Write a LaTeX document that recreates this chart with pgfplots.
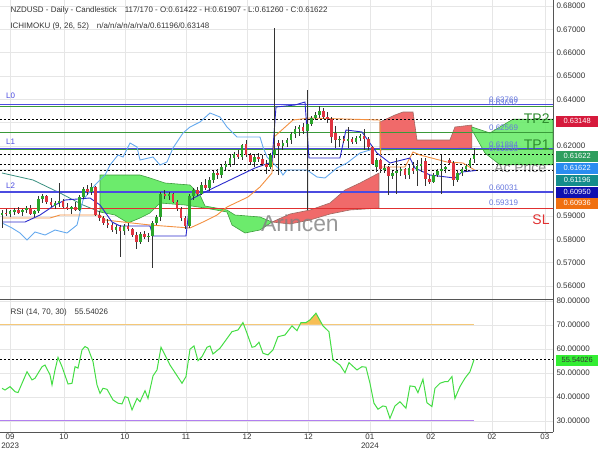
\documentclass[border=0pt]{standalone}
\usepackage{fontspec}
\setmainfont{Liberation Sans}
\usepackage{pgfplots}
\usepackage{pgfplotstable}
\usepgfplotslibrary{fillbetween}
\pgfplotsset{compat=1.18}
\definecolor{gridgray}{HTML}{E6E6E6}
\definecolor{axgray}{HTML}{555555}
\definecolor{tickgray}{HTML}{333333}
\definecolor{cgreen}{HTML}{2AA52A}
\definecolor{cred}{HTML}{E03440}
\definecolor{wick}{HTML}{333333}
\definecolor{cloudg}{HTML}{6CEB6C}
\definecolor{cloudgedge}{HTML}{3E9E3E}
\definecolor{cloudr}{HTML}{F06A6A}
\definecolor{cloudredge}{HTML}{A06A64}
\definecolor{tenkan}{HTML}{2A2ACC}
\definecolor{kijun}{HTML}{F39040}
\definecolor{chikou}{HTML}{66AAEE}
\definecolor{spana}{HTML}{3A9080}
\definecolor{lvlblue}{HTML}{4B4BE0}
\definecolor{lvlgreen}{HTML}{3A9A3A}
\definecolor{lvlred}{HTML}{E03030}
\definecolor{lbltext}{HTML}{6677DD}
\definecolor{tpgreen}{HTML}{2E8B2E}
\definecolor{rsigreen}{HTML}{44DD44}
\definecolor{oborange}{HTML}{F5C878}
\definecolor{obfill}{HTML}{F7BE55}
\definecolor{ospurple}{HTML}{B27FF0}
\definecolor{bxred}{HTML}{D61A3C}
\definecolor{bxgreen}{HTML}{2E9E5E}
\definecolor{bxblue}{HTML}{2A8CF0}
\definecolor{bxteal}{HTML}{148C8C}
\definecolor{bxnavy}{HTML}{1010B0}
\definecolor{bxorange}{HTML}{F07010}
\definecolor{bxlime}{HTML}{33EE33}

\pgfplotstableread{
i o h l c
0 .5905 .5925 .5850 .5915
2 .5908 .5925 .5895 .5920
3 .5920 .5935 .5905 .5927
5 .5915 .5930 .5900 .5925
6 .5925 .5945 .5915 .5936
8 .5910 .5925 .5895 .5920
9 .5920 .5985 .5915 .5975
10 .5975 .5995 .5955 .5986
13 .5945 .5965 .5930 .5955
14 .5955 .6040 .5940 .5966
17 .5930 .5945 .5910 .5937
19 .5925 .5990 .5920 .5980
20 .5980 .6025 .5975 .6015
22 .6002 .6040 .5990 .6025
28 .5840 .5860 .5825 .5852
30 .5836 .5865 .5820 .5856
34 .5790 .5830 .5780 .5822
36 .5810 .5825 .5790 .5816
37 .5816 .5880 .5677 .5870
38 .5870 .5905 .5860 .5895
39 .5895 .6005 .5880 .5995
41 .5985 .6005 .5970 .5996
46 .5858 .5995 .5850 .5985
47 .5985 .6020 .5970 .6010
49 .5995 .6045 .5990 .6035
51 .6020 .6065 .6005 .6055
52 .6055 .6095 .6040 .6085
54 .6075 .6120 .6065 .6110
55 .6110 .6135 .6095 .6125
56 .6125 .6165 .6110 .6150
57 .6150 .6175 .6120 .6165
59 .6152 .6210 .6140 .6205
62 .6130 .6165 .6110 .6155
66 .6110 .6170 .6100 .6160
67 .6160 .6705 .6150 .6182
69 .6198 .6225 .6185 .6215
70 .6215 .6235 .6195 .6226
71 .6226 .6260 .6210 .6250
72 .6250 .6285 .6235 .6275
73 .6275 .6290 .6245 .6282
75 .6265 .6440 .5925 .6296
76 .6296 .6330 .6285 .6320
77 .6320 .6345 .6310 .6335
78 .6335 .6370 .6320 .6352
83 .6225 .6245 .6195 .6232
85 .6222 .6280 .6190 .6228
87 .6218 .6245 .6210 .6235
88 .6235 .6250 .6220 .6242
92 .6110 .6150 .6090 .6138
94 .6100 .6120 .6085 .6106
96 .6070 .6095 .6060 .6085
97 .6085 .6150 .5995 .6092
98 .6092 .6110 .6070 .6100
100 .6075 .6120 .6060 .6105
102 .6095 .6140 .6030 .6115
103 .6115 .6150 .6090 .6125
106 .6045 .6085 .6040 .6075
107 .6075 .6100 .6065 .6095
108 .6095 .6160 .5995 .6100
109 .6100 .6115 .6085 .6108
112 .6055 .6095 .6045 .6085
113 .6085 .6110 .6070 .6100
114 .6100 .6125 .6090 .6115
115 .6115 .6150 .6105 .6142
116 .61422 .61907 .61260 .61622
}\greencandles

\pgfplotstableread{
i o h l c
1 .5915 .5930 .5900 .5908
4 .5927 .5940 .5910 .5915
7 .5936 .5945 .5905 .5910
11 .5986 .5990 .5950 .5960
12 .5960 .5975 .5940 .5945
15 .5966 .5975 .5935 .5940
16 .5940 .5955 .5925 .5930
18 .5937 .5960 .5920 .5925
21 .6015 .6035 .5990 .6002
23 .6025 .6030 .5900 .5905
24 .5905 .5920 .5880 .5890
25 .5890 .5900 .5860 .5870
26 .5870 .5885 .5850 .5860
27 .5860 .5870 .5830 .5840
29 .5852 .5860 .5725 .5836
31 .5856 .5870 .5835 .5845
32 .5845 .5850 .5810 .5820
33 .5820 .5830 .5760 .5790
35 .5822 .5835 .5800 .5810
40 .5995 .6010 .5975 .5985
42 .5996 .6000 .5955 .5960
43 .5960 .5970 .5920 .5930
44 .5930 .5940 .5880 .5890
45 .5890 .5900 .5845 .5855
48 .6010 .6025 .5985 .5995
50 .6035 .6060 .6010 .6020
53 .6085 .6100 .6060 .6075
58 .6165 .6185 .6145 .6152
60 .6210 .6225 .6155 .6160
61 .6160 .6170 .6120 .6130
63 .6155 .6170 .6130 .6145
64 .6145 .6160 .6115 .6125
65 .6125 .6140 .6080 .6110
68 .6212 .6225 .6075 .6198
74 .6282 .6300 .6250 .6265
79 .6352 .6365 .6315 .6325
80 .6325 .6345 .6300 .6315
81 .6315 .6325 .6215 .6240
82 .6255 .6285 .6190 .6225
84 .6232 .6245 .6215 .6222
86 .6228 .6240 .6210 .6218
89 .6242 .6275 .6185 .6232
90 .6232 .6240 .6185 .6195
91 .6195 .6200 .6120 .6125
93 .6138 .6145 .6085 .6100
95 .6110 .6115 .5990 .6070
99 .6100 .6105 .6060 .6075
101 .6105 .6130 .6080 .6095
104 .6135 .6150 .6030 .6058
105 .6058 .6075 .6035 .6045
110 .6140 .6150 .6120 .6128
111 .6128 .6135 .6030 .6055
}\redcandles

\pgfplotstableread{
x r
0 43.6
0.74 42.9
1.97 44.3
3.19 42.2
3.93 41.8
6.14 50.5
7.37 47.1
8.11 47.8
9.83 52.6
10.57 53.3
11.79 49.2
12.29 45
13.02 51.25
13.76 56.5
14.74 52.6
16.22 45.4
17.2 45.7
17.94 52.6
18.67 52
19.66 59.6
20.39 61
21.13 60.3
22.36 54.7
23.34 45
24.08 41.5
24.82 43.6
25.8 43.2
27.27 38.75
28.5 37.4
29.48 37.1
30.22 40.1
30.96 39.7
31.94 34.6
33.17 39.4
33.91 38
35.14 42.6
35.87 39.4
37.1 48.75
38.08 51.25
39.07 60.7
40.05 57.5
41.28 53.3
44.23 45.7
45.21 48.5
46.19 59.9
47.17 61.25
48.16 55.1
49.14 56.8
50.37 60.7
51.11 61.25
51.84 57.9
53.56 60.3
56.51 67.2
57.99 67.9
59.21 71
60.2 66.5
61.43 60.7
62.16 61
63.14 62.8
64.13 58.2
65.36 57.5
66.58 59.6
67.81 65.1
69.53 65.8
71.25 69.6
72.48 67.6
73.46 71
74.69 71
75.68 72.1
77.15 74.9
78.87 69.6
80.34 67.2
81.33 55.4
83.05 53.3
84.28 50.1
85.26 54.3
87.22 51.25
88.45 52.6
89.43 52.4
90.42 45.7
91.4 37.4
92.38 34.9
93.61 36.25
94.35 36
95.33 31.1
96.56 36.25
97.79 38
99.26 35.3
100.25 44.6
101.47 44.3
102.21 41.8
103.44 47.4
104.42 37.6
105.65 36
106.39 43.6
107.62 45.7
108.85 46.4
109.58 46.4
110.57 48.5
111.3 39.4
112.53 44.3
113.76 47.8
114.99 50.5
116 55.54
}\rsidata

\pgfplotsset{chartbase/.style={
  scale only axis, width=553bp, xmin=-0.5, xmax=135.4,
  axis x line*=bottom, axis y line*=right,
  axis line style={draw=axgray, line width=0.8bp},
  major tick length=0pt,
  grid=major, major grid style={draw=gridgray, line width=0.6bp},
  xtick={2,15.2,30.2,45.2,60.2,75.3,90.4,105.4,120.4,133.4},
  scaled y ticks=false,
  yticklabel style={font=\fontsize{8}{9.6}\selectfont, text=tickgray},
  xticklabel style={font=\fontsize{8}{8.6}\selectfont, text=tickgray, align=center, yshift=1.5bp},
  /pgf/number format/fixed, /pgf/number format/fixed zerofill,
  /pgf/number format/precision=5, /pgf/number format/assume math mode=true,
  clip=false}}

\begin{document}
\begin{tikzpicture}
\begin{axis}[chartbase, at={(0,0)}, anchor=north west, height=299bp,
  ymin=0.55442, ymax=0.68258,
  ytick={0.56,0.57,0.58,0.59,0.62,0.64,0.65,0.66,0.67,0.68},
  extra y ticks={0.60,0.61,0.63}, extra y tick labels={},
  xticklabels={}]
\node[anchor=east, font=\fontsize{14}{16}\selectfont, text=black!45] at (axis cs:134.6,0.61057) {Ac Price};
% Ichimoku cloud
\addplot[fill=cloudg, draw=cloudgedge, line width=0.6bp] coordinates {
(24.08,.60757) (33.91,.60757) (36.36,.60628) (40.05,.60414) (46.19,.60328)
(48.65,.59900) (49.88,.59428) (55.28,.59257) (57.25,.59042) (63.39,.58957)
(66.34,.58742) (63.39,.58400) (59.71,.58271) (56.51,.58614) (55.28,.59171)
(49.88,.59342) (44.96,.59471) (38.82,.59557) (36.36,.59128) (33.91,.58914)
(30.96,.58700) (27.76,.59042) (24.08,.59171)} --cycle;
\addplot[fill=cloudr, draw=cloudredge, line width=0.6bp] coordinates {
(66.34,.58742) (70.76,.59085) (75.68,.59257) (80.59,.59557) (84.28,.60114)
(87.96,.60414) (92.63,.60843) (92.63,.59342) (85.5,.59257) (80.59,.59085)
(75.68,.58828) (70.76,.58657)} --cycle;
\addplot[fill=cloudr, draw=cloudredge, line width=0.6bp] coordinates {
(92.87,.63029) (96.56,.63329) (98.53,.63457) (101.0,.63457) (101.97,.62257)
(110.07,.62257) (111.3,.62814) (115.48,.62900) (115.48,.61914) (92.87,.61829)} --cycle;
\addplot[fill=cloudg, draw=cloudgedge, line width=0.6bp, fill opacity=0.9] coordinates {
(115.48,.62814) (119.9,.62557) (125.55,.63148) (135.4,.63148) (135.4,.61196)
(122.36,.61196) (118.67,.61700) (115.48,.62686)} --cycle;
\addplot[spana, line width=0.8bp] coordinates {(0,.60843) (7.62,.60543) (14.25,.59985) (19.9,.59471) (24.08,.59171)};
% horizontal levels
\addplot[lvlblue, line width=1.2bp] coordinates {(-0.5,0.63769) (135.4,0.63769)};
\addplot[lvlgreen, line width=1bp] coordinates {(-0.5,0.63692) (135.4,0.63692)};
\addplot[lvlgreen, line width=1bp] coordinates {(-0.5,0.62569) (135.4,0.62569)};
\addplot[lvlgreen, line width=1bp] coordinates {(-0.5,0.61838) (135.4,0.61838)};
\addplot[lvlblue, line width=1.2bp] coordinates {(-0.5,0.61884) (135.4,0.61884)};
\addplot[lvlblue, line width=1.2bp] coordinates {(-0.5,0.60031) (135.4,0.60031)};
\addplot[lvlred, line width=1.2bp] coordinates {(-0.5,0.59319) (135.4,0.59319)};
\addplot[black, line width=1.2bp, dash pattern=on 2bp off 2bp] coordinates {(-0.5,0.63148) (135.4,0.63148)};
\addplot[black, line width=1.2bp, dash pattern=on 2bp off 2bp] coordinates {(-0.5,0.61622) (135.4,0.61622)};
\addplot[black, line width=1.2bp, dash pattern=on 2bp off 2bp] coordinates {(-0.5,0.61196) (135.4,0.61196)};
\addplot[black, line width=1.2bp, dash pattern=on 2bp off 2bp] coordinates {(-0.5,0.60950) (135.4,0.60950)};
% chikou
\addplot[chikou, line width=0.9bp] coordinates {
(0,.58700) (2.46,.58485) (4.42,.58271) (6.14,.57971) (8.11,.58314) (10.57,.58185)
(13.02,.58400) (15.97,.58271) (18.43,.58614) (19.9,.59685) (22.85,.60328) (25.31,.60757)
(26.54,.61186) (28.5,.61614) (29.73,.61529) (31.45,.62129) (33.17,.61957) (33.91,.61400)
(37.1,.61529) (38.82,.61186) (40.54,.61314) (42.01,.61914) (44.47,.62557) (46.19,.62814)
(48.65,.63029) (51.11,.63414) (53.56,.63243) (55.28,.62814) (57.74,.62386) (60.2,.62386)
(63.39,.62386) (64.13,.61957) (65.11,.61529) (66.58,.61271) (68.3,.60971) (69.04,.60757)
(70.02,.60971) (73.22,.60971) (74.94,.60971) (77.4,.60671) (79.36,.60628) (82.31,.61057)
(84.77,.61271) (87.96,.61700) (90.42,.61829)};
% kijun
\addplot[kijun, line width=0.9bp] coordinates {
(0,.58914) (11.79,.58914) (14.25,.59042) (24.08,.59042) (25.31,.58828) (36.36,.58614)
(46.19,.58485) (49.39,.58742) (52.83,.59042) (55.28,.59385) (60.44,.59814) (63.39,.60243)
(66.34,.60843) (66.83,.62386) (71.5,.63114) (75.68,.63200) (92.87,.63114) (93.12,.61100)
(99.02,.61100) (101.0,.61743) (102.7,.61614) (109.34,.61314) (113.27,.61271) (116.46,.60936)};
% tenkan
\addplot[tenkan, line width=0.9bp] coordinates {
(0,.58742) (5.65,.58742) (9.34,.59042) (13.02,.59471) (15.48,.59685) (21.62,.59771)
(24.08,.59471) (27.03,.58742) (28.99,.58571) (36.36,.58571) (37.1,.58142) (45.21,.58142)
(46.19,.59685) (49.88,.60028) (56.02,.60543) (62.16,.61057) (66.34,.61314) (67.32,.63672)
(71.99,.63757) (74.45,.63886) (75.43,.61486) (83.05,.61486) (84.52,.62686) (88.45,.62600)
(92.14,.61700) (95.33,.61271) (100.25,.61486) (101.47,.61057) (105.16,.60757) (111.3,.60628)
(113.02,.60886) (116.46,.60950)};
% candles: wicks
\addplot[draw=none, mark=none, forget plot, error bars/.cd, y dir=both, y explicit, error mark=none,
  error bar style={draw=wick, line width=0.7bp}]
  table[x=i, y expr={(\thisrow{h}+\thisrow{l})/2}, y error expr={(\thisrow{h}-\thisrow{l})/2}] {\greencandles};
\addplot[draw=none, mark=none, forget plot, error bars/.cd, y dir=both, y explicit, error mark=none,
  error bar style={draw=wick, line width=0.7bp}]
  table[x=i, y expr={(\thisrow{h}+\thisrow{l})/2}, y error expr={(\thisrow{h}-\thisrow{l})/2}] {\redcandles};
% bodies
\addplot[draw=none, mark=none, forget plot, error bars/.cd, y dir=both, y explicit, error mark=none,
  error bar style={draw=cgreen, line width=2.6bp}]
  table[x=i, y expr={(\thisrow{o}+\thisrow{c})/2}, y error expr={max(abs(\thisrow{c}-\thisrow{o})/2,0.00006)}] {\greencandles};
\addplot[draw=none, mark=none, forget plot, error bars/.cd, y dir=both, y explicit, error mark=none,
  error bar style={draw=cred, line width=2.6bp}]
  table[x=i, y expr={(\thisrow{o}+\thisrow{c})/2}, y error expr={max(abs(\thisrow{c}-\thisrow{o})/2,0.00006)}] {\redcandles};
% labels
\begin{scope}[font=\fontsize{8}{9}\selectfont]
\node[anchor=west, inner sep=0, text=lbltext] at (axis cs:119.66,0.63972) {0.63769};
\node[anchor=west, inner sep=0, text=lbltext] at (axis cs:119.66,0.63843) {0.63692};
\node[anchor=west, inner sep=0, text=lbltext] at (axis cs:119.66,0.62772) {0.62569};
\node[anchor=west, inner sep=0, text=lbltext] at (axis cs:119.66,0.62043) {0.61884};
\node[anchor=west, inner sep=0, text=lbltext] at (axis cs:119.66,0.61900) {0.61838};
\node[anchor=west, inner sep=0, text=lbltext] at (axis cs:119.66,0.60200) {0.60031};
\node[anchor=west, inner sep=0, text=lbltext] at (axis cs:119.66,0.59557) {0.59319};
\node[anchor=west, inner sep=0, text=lvlblue] at (axis cs:0.98,0.64143) {L0};
\node[anchor=west, inner sep=0, text=lvlblue] at (axis cs:0.98,0.62171) {L1};
\node[anchor=west, inner sep=0, text=lvlblue] at (axis cs:0.98,0.60285) {L2};
\end{scope}
\node[anchor=east, inner sep=0, font=\fontsize{14}{16}\selectfont, text=tpgreen] at (axis cs:134.6,0.63157) {TP2};
\node[anchor=east, inner sep=0, font=\fontsize{14}{16}\selectfont, text=tpgreen] at (axis cs:134.6,0.62043) {TP1};
\node[anchor=east, inner sep=0, font=\fontsize{14}{16}\selectfont, text=lvlred] at (axis cs:134.6,0.58828) {SL};
\node[font=\fontsize{23}{26}\selectfont, text=black!50, opacity=0.8] at (axis cs:73.2,0.58700) {Arincen};
\end{axis}

\begin{axis}[chartbase, at={(0,-299bp)}, anchor=north west, height=133bp,
  ymin=25.4, ymax=80.8, ytick={30,40,50,60,70,80},
  xticklabels={{09\\2023},10,10,11,12,12,{01\\2024},02,02,03}]
\addplot[oborange, line width=1bp, name path=ob] coordinates {(-0.5,70) (116,70)};
\addplot[ospurple, line width=1bp] coordinates {(-0.5,30) (116,30)};
\addplot[black, line width=1.1bp, dash pattern=on 2bp off 2bp] coordinates {(-0.5,55.54) (135.4,55.54)};
\addplot[rsigreen, line width=1bp, name path=rsi] table[x=x, y=r] {\rsidata};
\addplot[fill=obfill, draw=none] fill between[of=rsi and ob, soft clip={domain=73.17:78.74}];
\end{axis}

% header texts
\node[anchor=west, font=\fontsize{8}{9}\selectfont, text=tickgray] at (7bp,-10bp) {NZDUSD - Daily - Candlestick\quad 117/170 - O:0.61422 - H:0.61907 - L:0.61260 - C:0.61622};
\node[anchor=west, font=\fontsize{8}{9}\selectfont, text=tickgray] at (7bp,-26bp) {ICHIMOKU (9, 26, 52)\quad n/a/n/a/n/a/n/a/0.61196/0.63148};
\node[anchor=west, font=\fontsize{8}{9}\selectfont, text=tickgray] at (7bp,-312bp) {RSI (14, 70, 30)\quad 55.54026};
% right value boxes
\begin{scope}[every node/.style={anchor=west, inner sep=0, minimum width=42bp, minimum height=11bp, font=\fontsize{7.5}{8}\selectfont, text=white}]
\node[fill=bxred] at (556bp,-121bp) {0.63148};
\node[fill=bxgreen] at (556bp,-156bp) {0.61622};
\node[fill=bxblue] at (556bp,-168bp) {0.61622};
\node[fill=bxteal] at (556bp,-180bp) {0.61196};
\node[fill=bxnavy] at (556bp,-192bp) {0.60950};
\node[fill=bxorange] at (556bp,-203bp) {0.60936};
\node[fill=bxlime, text=black!80] at (556bp,-360bp) {55.54026};
\end{scope}
\pgfresetboundingbox
\path[use as bounding box] (0bp,0bp) rectangle (600bp,-450bp);
\end{tikzpicture}
\end{document}
